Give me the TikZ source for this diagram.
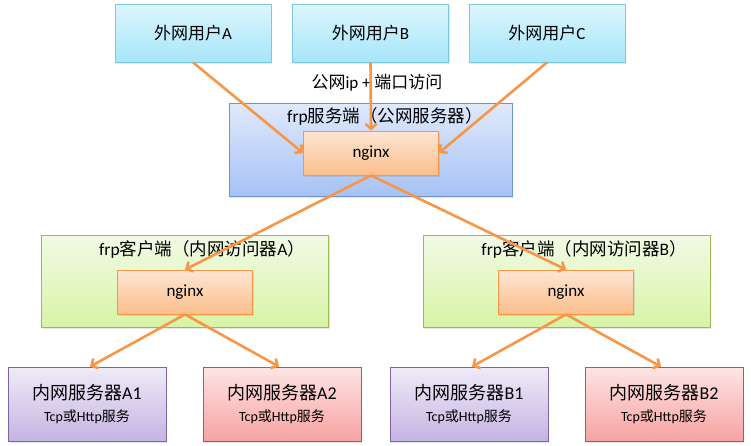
\documentclass[tikz,border=0pt]{standalone}
\usepackage{fontspec}
\setmainfont{Carlito}
\newfontfamily\cjk{Noto Sans CJK SC}
\usetikzlibrary{arrows.meta,
                positioning,
                shadows
            }

\definecolor{linkorange}{HTML}{F79646}
\definecolor{userline}{HTML}{7CC8DE}
\definecolor{usertop}{HTML}{DDF6FD}
\definecolor{userbot}{HTML}{A6E6F9}
\definecolor{srvline}{HTML}{6F93CF}
\definecolor{srvtop}{HTML}{DFE9FC}
\definecolor{srvbot}{HTML}{A6C2F5}
\definecolor{cliline}{HTML}{9BBB59}
\definecolor{clitop}{HTML}{F2FAE6}
\definecolor{clibot}{HTML}{D8F4A6}
\definecolor{ngxtop}{HTML}{FDE6D4}
\definecolor{ngxbot}{HTML}{FBBE8A}
\definecolor{hostaline}{HTML}{8064A2}
\definecolor{hostatop}{HTML}{EFEBF8}
\definecolor{hostabot}{HTML}{C4B4E2}
\definecolor{hostbline}{HTML}{C0504D}
\definecolor{hostbtop}{HTML}{FDE5E5}
\definecolor{hostbbot}{HTML}{F8A2A2}

\begin{document}
\begin{tikzpicture}[x=1pt, y=-1pt,
        box/.style={draw, line width=0.8pt, inner sep=0pt,
                    drop shadow={opacity=0.2, shadow xshift=1pt, shadow yshift=-1.5pt}},
        userbox/.style={box, draw=userline, top color=usertop, bottom color=userbot,
                        minimum width=156pt, minimum height=58pt, font=\fontsize{17}{20}\selectfont},
        serverbox/.style={box, draw=srvline, top color=srvtop, bottom color=srvbot,
                          minimum width=283pt, minimum height=93pt},
        clientbox/.style={box, draw=cliline, top color=clitop, bottom color=clibot,
                          minimum width=287pt, minimum height=92pt},
        titletext/.style={font=\fontsize{17.5}{20}\selectfont},
        nginxbox/.style={box, draw=linkorange, top color=ngxtop, bottom color=ngxbot,
                         minimum width=135pt, minimum height=44pt, font=\fontsize{17}{20}\selectfont},
        hostA/.style={box, draw=hostaline, top color=hostatop, bottom color=hostabot,
                      minimum width=158pt, minimum height=74pt, align=center},
        hostB/.style={box, draw=hostbline, top color=hostbtop, bottom color=hostbbot,
                      minimum width=158pt, minimum height=74pt, align=center},
        link/.style={draw=linkorange, line width=2.6pt, -{Straight Barb[length=5pt, width=11pt]}}
    ]
            \useasboundingbox (0, 0) rectangle (751, 445);

            % outside users
            \node[userbox] (ua) at (193, 33) {{\cjk 外网用户}A};
            \node[userbox] (ub) at (370.5, 33) {{\cjk 外网用户}B};
            \node[userbox] (uc) at (547, 33) {{\cjk 外网用户}C};
            \node[font=\fontsize{17}{20}\selectfont] (via) at (377, 83) {{\cjk 公网}ip + {\cjk 端口访问}};

            % frp server
            \node[serverbox] (srv) at (370.5, 149.5) {};
            \node[titletext] (srvtitle) at (385, 116) {frp{\cjk 服务端（公网服务器）}};
            \node[nginxbox] (ngs) at (371, 153) {nginx};

            % frp clients
            \node[clientbox] (ca) at (185, 281) {};
            \node[titletext] (catitle) at (202, 249) {frp{\cjk 客户端（内网访问器}A{\cjk ）}};
            \node[nginxbox] (nga) at (185, 292) {nginx};
            \node[clientbox] (cb) at (566.5, 281) {};
            \node[titletext] (cbtitle) at (584, 249) {frp{\cjk 客户端（内网访问器}B{\cjk ）}};
            \node[nginxbox] (ngb) at (566, 292) {nginx};

            % inner hosts
            \node[hostA] (a1) at (87, 404) {\fontsize{18}{21}\selectfont{\cjk 内网服务器}A1\\[8pt]\fontsize{14}{16}\selectfont Tcp{\cjk 或}Http{\cjk 服务}};
            \node[hostB] (a2) at (282, 404) {\fontsize{18}{21}\selectfont{\cjk 内网服务器}A2\\[8pt]\fontsize{14}{16}\selectfont Tcp{\cjk 或}Http{\cjk 服务}};
            \node[hostA] (b1) at (469, 404) {\fontsize{18}{21}\selectfont{\cjk 内网服务器}B1\\[8pt]\fontsize{14}{16}\selectfont Tcp{\cjk 或}Http{\cjk 服务}};
            \node[hostB] (b2) at (664, 404) {\fontsize{18}{21}\selectfont{\cjk 内网服务器}B2\\[8pt]\fontsize{14}{16}\selectfont Tcp{\cjk 或}Http{\cjk 服务}};

            % links
            \draw[link] (ua.south) -- (ngs.west);
            \draw[link] (ub.south) -- (ngs.north);
            \draw[link] (uc.south) -- (ngs.east);
            \draw[link] (ngs.south) -- (nga.north);
            \draw[link] (ngs.south) -- (ngb.north);
            \draw[link] (nga.south) -- ([xshift=3pt]a1.north);
            \draw[link] (nga.south) -- ([xshift=-3pt]a2.north);
            \draw[link] (ngb.south) -- ([xshift=3pt]b1.north);
            \draw[link] (ngb.south) -- ([xshift=-3pt]b2.north);
        \end{tikzpicture}
\end{document}
